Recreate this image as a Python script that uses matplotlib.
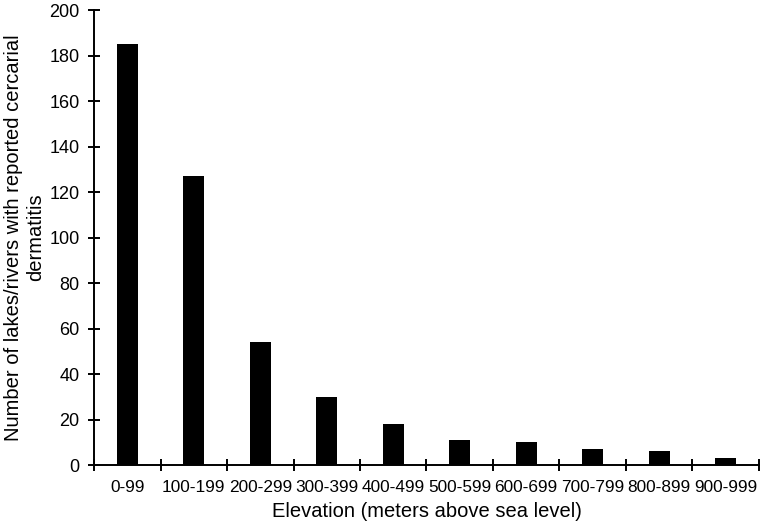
import numpy as np
import matplotlib
matplotlib.use("Agg")
import matplotlib.pyplot as plt

plt.rcParams['font.family'] = ['Liberation Sans', 'DejaVu Sans']

categories = ['0-99', '100-199', '200-299', '300-399', '400-499',
              '500-599', '600-699', '700-799', '800-899', '900-999']
counts = [185, 127, 54, 30, 18, 11, 10, 7, 6, 3]

fig = plt.figure(figsize=(7.62, 5.27), dpi=100)
ax = fig.add_axes([0.1234, 0.1176, 0.8726, 0.8634])

x = np.arange(len(categories))
ax.bar(x, counts, width=0.32, color='black')

ax.set_xlim(-0.5, len(categories) - 0.5)
ax.set_ylim(0, 200)
ax.set_yticks(np.arange(0, 201, 20))
ax.set_xticks(x)
ax.set_xticklabels(categories)
ax.set_xticks(np.arange(-0.5, len(categories), 1), minor=True)

ax.tick_params(axis='x', which='major', length=0, pad=11, labelsize=12.4)
ax.tick_params(axis='x', which='minor', direction='inout', length=9, width=1.4)
ax.tick_params(axis='y', direction='inout', length=9, width=1.4, labelsize=13, pad=6)

for s in ['top', 'right']:
    ax.spines[s].set_visible(False)
for s in ['left', 'bottom']:
    ax.spines[s].set_linewidth(1.4)

ax.set_xlabel('Elevation (meters above sea level)', fontsize=14.5, labelpad=5)
ax.set_ylabel('Number of lakes/rivers with reported cercarial\ndermatitis',
              fontsize=14.5, labelpad=3)

plt.savefig('out.png', dpi=100)
